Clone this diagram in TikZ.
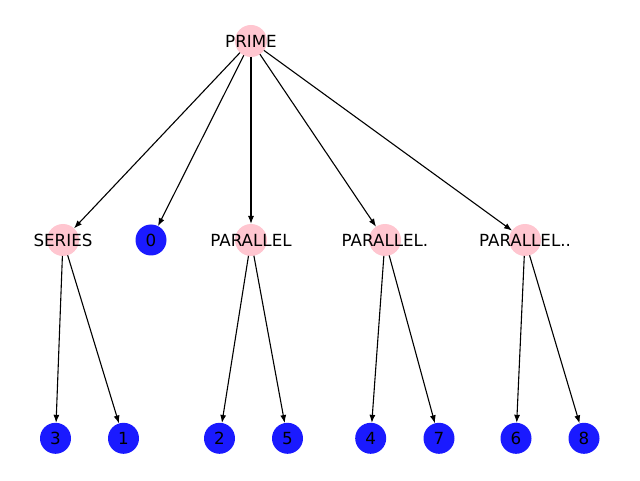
\documentclass[tikz,border=0pt]{standalone}
\usepackage{fontspec}
\setmainfont{DejaVu Sans}
\usetikzlibrary{arrows.meta}
\begin{document}
\begin{tikzpicture}[x=1pt,y=1pt,
  nodefont/.style={font=\fontsize{16.7}{20}\selectfont,text=black},
  every label/.style={nodefont,inner sep=0pt},
  treenode/.style={circle,inner sep=0pt,outer sep=0pt,minimum size=32pt,nodefont},
  opnode/.style={treenode,fill=pinkColor},
  leafnode/.style={treenode,fill=blueColor,minimum size=31pt},
  edge/.style={draw=black,line width=1.1pt,-{Latex[length=8pt,width=6pt]}}]
\definecolor{pinkColor}{RGB}{255,198,208}
\definecolor{blueColor}{RGB}{26,26,255}
\path[use as bounding box,fill=white] (0,0) rectangle (640,480);

% modules
\node[opnode,label={center:PRIME}] (prime) at (251.00,439.00) {};
\node[opnode,label={center:SERIES}] (series) at ( 63.00,240.00) {};
\node[leafnode] (n0) at (151.00,240.00) {0};
\node[opnode,label={center:PARALLEL}] (parallel) at (251.00,240.00) {};
\node[opnode,label={center:PARALLEL.}] (parallelA) at (385.00,240.00) {};
\node[opnode,label={center:PARALLEL..}] (parallelB) at (525.00,240.00) {};

% leaves
\node[leafnode] (n3) at ( 55.50, 41.70) {3};
\node[leafnode] (n1) at (123.50, 41.70) {1};
\node[leafnode] (n2) at (219.50, 41.70) {2};
\node[leafnode] (n5) at (287.50, 41.70) {5};
\node[leafnode] (n4) at (370.70, 41.70) {4};
\node[leafnode] (n7) at (439.00, 41.70) {7};
\node[leafnode] (n6) at (516.00, 41.70) {6};
\node[leafnode] (n8) at (584.00, 41.70) {8};

\path[edge] (prime) -- (series);
\path[edge] (prime) -- (n0);
\path[edge] (prime) -- (parallel);
\path[edge] (prime) -- (parallelA);
\path[edge] (prime) -- (parallelB);

\path[edge] (series) -- (n3);
\path[edge] (series) -- (n1);
\path[edge] (parallel) -- (n2);
\path[edge] (parallel) -- (n5);
\path[edge] (parallelA) -- (n4);
\path[edge] (parallelA) -- (n7);
\path[edge] (parallelB) -- (n6);
\path[edge] (parallelB) -- (n8);
\end{tikzpicture}
\end{document}
